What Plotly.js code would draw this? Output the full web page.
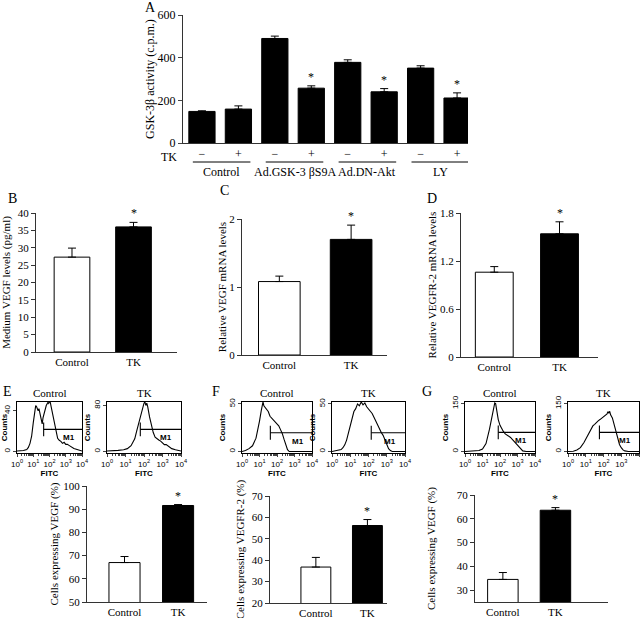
<!DOCTYPE html>
<html>
<head>
<meta charset="utf-8">
<script src="https://cdn.plot.ly/plotly-3.0.1.min.js"></script>
<style>html,body{margin:0;padding:0;background:#fff;}#chart{width:641px;height:618px;}</style>
</head>
<body>
<div id="chart"></div>
<script>
// ---------- DATA ----------
// Panel A
const aTK = ['−','+','−','+','−','+','−','+'];
const aGroups = ['Control','Ad.GSK-3 βS9A','Ad.DN-Akt','LY'];
const aValues = [148,159,490,257,378,240,351,211];
const aErrors = [3,15,11,11,12,15,11,24];
const aSig = [false,false,false,true,false,true,false,true];

// Bar panels B-G
const pairCats = ['Control','TK'];
const bValues = [27.3,36.0]; const bErrors = [2.6,1.3];
const cValues = [1.08,1.70]; const cErrors = [0.08,0.21];
const dValues = [1.06,1.54]; const dErrors = [0.07,0.15];
const eValues = [67.0,91.6]; const eErrors = [2.6,0.4];
const fValues = [36.8,56.2]; const fErrors = [4.5,2.8];
const gValues = [34.5,63.6]; const gErrors = [2.9,1.1];

// Flow cytometry histograms (x = log10 FITC, y = counts)
const eCtrlX = [0,0.2,0.4,0.6,0.7,0.8,0.9,1.0,1.1,1.15,1.2,1.3,1.35,1.4,1.5,1.55,1.6,1.7,1.8,1.9,1.95,2.0,2.05,2.1,2.2,2.3,2.4,2.5,2.6,2.7,2.8,2.9,3.0,3.1,3.2,3.3,3.5,3.7,3.9,4.0];
const eCtrlY = [0.5,0.5,1,2,4,8,15,28,40,45,44,40,42,38,30,27,33,40,45,48,47,49,48,44,36,26,18,13,11,10,8,9,7,7,6,5,3,2,1,0.5];
const eTKX = [0,0.3,0.6,0.9,1.1,1.3,1.5,1.6,1.7,1.8,1.9,2.0,2.05,2.1,2.15,2.2,2.3,2.4,2.5,2.6,2.7,2.8,2.9,3.0,3.1,3.2,3.3,3.4,3.5,3.7,3.9,4.0];
const eTKY = [1,1,2,3,5,10,22,35,48,62,75,84,86,80,84,78,60,45,33,25,22,20,18,14,12,12,10,8,5,3,2,1];
const fCtrlX = [0,0.2,0.4,0.6,0.8,0.9,1.0,1.1,1.15,1.2,1.25,1.3,1.4,1.5,1.6,1.7,1.8,1.9,2.0,2.1,2.2,2.3,2.4,2.5,2.6,2.7,3.0,4.0];
const fCtrlY = [0,1,3,6,14,22,32,43,50,52,48,47,44,42,37,35,33,32,30,27,23,19,13,7,2,0,0,0];
const fTKX = [0,0.3,0.5,0.6,0.7,0.8,0.9,1.0,1.1,1.2,1.3,1.4,1.5,1.6,1.7,1.8,1.9,2.0,2.2,2.3,2.4,2.5,2.6,2.7,2.8,2.9,3.0,3.1,3.2,3.3,4.0];
const fTKY = [0,1,2,4,7,12,19,27,34,42,45,50,48,52,49,51,47,45,40,36,32,27,23,20,17,12,7,3,1,0,0];
const gCtrlX = [0,0.5,0.8,1.0,1.2,1.4,1.5,1.6,1.7,1.75,1.8,1.9,2.0,2.1,2.2,2.3,2.4,2.5,2.6,2.7,2.8,2.9,3.0,3.1,3.2,3.3,3.5,4.0];
const gCtrlY = [0,1,3,8,25,70,100,135,152,150,130,100,82,70,62,55,50,48,44,38,33,27,20,13,6,2,0,0];
const gTKX = [0,0.3,0.5,0.7,0.9,1.0,1.1,1.2,1.3,1.4,1.5,1.6,1.7,1.8,1.9,2.0,2.1,2.2,2.25,2.3,2.35,2.4,2.5,2.6,2.7,2.8,2.9,3.0,3.1,3.2,3.4,4.0];
const gTKY = [0,1,5,12,28,38,48,58,70,80,85,92,96,100,104,110,112,118,125,120,126,115,105,85,65,40,22,12,5,2,0,0];

const histTitles = ['Control','TK','Control','TK','Control','TK'];
const histYMax = [40,80,50,50,150,150];
const histYTop = [48.5,86,52,52,155,155];
const m1Start = [1.64,1.8,1.62,2.15,1.9,1.77];
const m1Level = [21.7,38.5,19.7,19.7,60,60];

// ---------- LAYOUT HELPERS ----------
const W = 641, H = 618;
const dx = (a,b) => [a/W, b/W];
const dy = (top,bot) => [1-bot/H, 1-top/H];
const serif = 'Liberation Serif, Times New Roman, serif';
const sans = 'Liberation Sans, Arial, sans-serif';

const traces = [];
const annotations = [];
const shapes = [];
const layout = {
  width: W, height: H, margin: {l:0,r:0,t:0,b:0},
  paper_bgcolor: '#fff', plot_bgcolor: 'rgba(0,0,0,0)',
  showlegend: false, font: {family: serif, size: 11, color: '#000'},
  bargap: 0
};

function note(o) {
  return Object.assign({showarrow: false, xanchor: 'center', yanchor: 'middle'}, o,
    {font: Object.assign({color: '#000'}, o.font || {})});
}

function barAxes(n, xd, yd, xr, yr, yticks, ytitle, standoff) {
  layout['xaxis'+n] = {domain: xd, range: xr, anchor: 'y'+n, showline: true, linecolor: '#333', linewidth: 1,
    ticks: '', tickvals: [0,1], ticktext: pairCats, showgrid: false, zeroline: false, fixedrange: true,
    tickfont: {family: serif, size: 11, color: '#000'}};
  layout['yaxis'+n] = {domain: yd, range: yr, anchor: 'x'+n, showline: true, linecolor: '#333', linewidth: 1,
    ticks: 'outside', ticklen: 4, tickcolor: '#333', tickvals: yticks, showgrid: false, zeroline: false,
    tickfont: {family: serif, size: 11, color: '#000'},
    title: {text: ytitle, font: {family: serif, size: 11, color: '#000'}, standoff: standoff}};
}

function addPair(n, vals, errs, sigIdx) {
  traces.push({type: 'bar', x: [0,1], y: vals, xaxis: 'x'+n, yaxis: 'y'+n, width: 0.58,
    marker: {color: ['#fff','#000'], line: {color: '#000', width: 1}},
    error_y: {type: 'data', symmetric: false, array: errs, arrayminus: [0,0], color: '#000', thickness: 1, width: 4},
    hoverinfo: 'skip'});
  annotations.push(note({xref: 'x'+n, yref: 'y'+n, x: sigIdx, y: vals[sigIdx]+errs[sigIdx], text: '*',
    yanchor: 'bottom', font: {family: serif, size: 12}}));
}

// ---------- PANEL A ----------
const aX = aValues.map((v,i) => i);
traces.push({type: 'bar', x: aX, y: aValues, xaxis: 'x', yaxis: 'y', width: 0.72,
  marker: {color: '#000', line: {color: '#000', width: 1}},
  error_y: {type: 'data', symmetric: false, array: aErrors, arrayminus: aErrors.map(()=>0), color: '#000', thickness: 1, width: 4},
  hoverinfo: 'skip'});
layout.xaxis = {domain: dx(183,468), range: [-0.52,7.3], anchor: 'y', showline: true, linecolor: '#333', ticks: '',
  tickvals: aX, ticktext: aTK, showgrid: false, zeroline: false, tickfont: {family: serif, size: 12, color: '#000'}};
layout.yaxis = {domain: dy(15,143), range: [0,600], anchor: 'x', showline: true, linecolor: '#333', ticks: 'outside',
  ticklen: 4, tickvals: [0,200,400,600], showgrid: false, zeroline: false, tickfont: {family: serif, size: 12, color: '#000'},
  title: {text: 'GSK-3β activity (c.p.m.)', font: {family: serif, size: 12, color: '#000'}, standoff: 0}};
aSig.forEach((s,i) => { if (s) annotations.push(note({xref: 'x', yref: 'y', x: i, y: aValues[i]+aErrors[i], text: '*',
  yanchor: 'bottom', font: {family: serif, size: 12}})); });
annotations.push(note({xref: 'paper', yref: 'paper', x: 169/W, y: 1-157/H, text: 'TK', font: {family: serif, size: 12}}));
aGroups.forEach((g,k) => {
  const i = 2*k;
  shapes.push({type: 'line', xref: 'x', yref: 'paper', x0: i-0.25, x1: i+1.33, y0: 1-162/H, y1: 1-162/H, line: {color: '#000', width: 1}});
  annotations.push(note({xref: 'x', yref: 'paper', x: i+0.54, y: 1-172/H, text: g, font: {family: serif, size: 12}}));
});

// ---------- PANELS B-D ----------
barAxes(2, dx(36,177), dy(213,352), [-0.585,1.707], [0,40], [0,5,10,15,20,25,30,35,40], 'Medium VEGF levels (pg/ml)', 4);
addPair(2, bValues, bErrors, 1);
barAxes(3, dx(242,387), dy(219,355), [-0.52,1.5], [0,2], [0,1,2], 'Relative VEGF mRNA levels', 0);
addPair(3, cValues, cErrors, 1);
barAxes(4, dx(461,598), dy(213,357), [-0.51,1.59], [0,1.8], [0,0.6,1.2,1.8], 'Relative VEGFR-2 mRNA levels', 1);
addPair(4, dValues, dErrors, 1);

// ---------- PANELS E-G bottom bars ----------
barAxes(5, dx(87,207), dy(486,602), [-0.7,1.54], [50,100], [50,60,70,80,90,100], 'Cells expressing VEGF (%)', 2);
addPair(5, eValues, eErrors, 1);
barAxes(6, dx(270,387), dy(496,603), [-0.89,1.38], [20,70], [20,30,40,50,60,70], 'Cells expressing VEGFR-2 (%)', 4);
addPair(6, fValues, fErrors, 1);
barAxes(7, dx(475,608), dy(495,602), [-0.53,2.0], [25,70], [30,40,50,60,70], 'Cells expressing VEGF (%)', 18);
addPair(7, gValues, gErrors, 1);

// ---------- HISTOGRAMS ----------
const histX = [eCtrlX, eTKX, fCtrlX, fTKX, gCtrlX, gTKX];
const histY = [eCtrlY, eTKY, fCtrlY, fTKY, gCtrlY, gTKY];
const histBoxes = [[17,82],[107,181],[242,312],[332,405],[465,535],[568,639]];
const minorVals = [];
for (let d=0; d<4; d++) for (let m=2; m<10; m++) minorVals.push(d+Math.log10(m));
histX.forEach((xs,k) => {
  const n = 8+k;
  const [l,r] = histBoxes[k];
  layout['xaxis'+n] = {domain: dx(l,r), range: [0,4], anchor: 'y'+n, showline: true, mirror: true, linecolor: '#000',
    linewidth: 1.2, ticks: 'outside', ticklen: 3, tickvals: [0,1,2,3,4],
    ticktext: ['10<sup>0</sup>','10<sup>1</sup>','10<sup>2</sup>','10<sup>3</sup>','10<sup>4</sup>'],
    minor: {tickvals: minorVals, ticks: 'outside', ticklen: 2}, showgrid: false, zeroline: false,
    tickfont: {family: sans, size: 8, color: '#000'}, title: {text: '<b>FITC</b>', font: {family: sans, size: 8, color: '#000'}, standoff: 0}};
  layout['yaxis'+n] = {domain: dy(402,453), range: [-1.5*histYTop[k]/50, histYTop[k]], anchor: 'x'+n, showline: true, mirror: true,
    linecolor: '#000', linewidth: 1.2, ticks: 'outside', ticklen: 3, tickvals: [0, histYMax[k]], tickangle: -90,
    showgrid: false, zeroline: false, tickfont: {family: sans, size: 8, color: '#000'},
    title: {text: '<b>Counts</b>', font: {family: sans, size: 8, color: '#000'}, standoff: 0}};
  traces.push({type: 'scatter', mode: 'lines', x: xs, y: histY[k], xaxis: 'x'+n, yaxis: 'y'+n,
    line: {color: '#000', width: 1.1}, hoverinfo: 'skip'});
  const half = histYTop[k]*0.14;
  traces.push({type: 'scatter', mode: 'lines', x: [m1Start[k], m1Start[k], null, m1Start[k], 4],
    y: [m1Level[k]-half, m1Level[k]+half, null, m1Level[k], m1Level[k]], xaxis: 'x'+n, yaxis: 'y'+n,
    line: {color: '#000', width: 1.1}, hoverinfo: 'skip'});
  annotations.push(note({xref: 'x'+n, yref: 'y'+n, x: 3.2, y: m1Level[k], yanchor: 'top', yshift: -2, text: '<b>M1</b>',
    font: {family: sans, size: 8}}));
  annotations.push(note({xref: 'paper', yref: 'paper', x: (l+r)/2/W, y: 1-393/H, text: histTitles[k],
    font: {family: serif, size: 11}}));
});

// ---------- PANEL LETTERS ----------
const letters = [['A',150,8],['B',12,198],['C',224,191],['D',432,198],['E',7,391],['F',216,391],['G',427,391]];
letters.forEach(([t,x,y]) => annotations.push(note({xref: 'paper', yref: 'paper', x: x/W, y: 1-y/H, text: t,
  font: {family: serif, size: 14}})));

layout.annotations = annotations;
layout.shapes = shapes;
Plotly.newPlot('chart', traces, layout, {staticPlot: true, displayModeBar: false});
</script>
</body>
</html>
